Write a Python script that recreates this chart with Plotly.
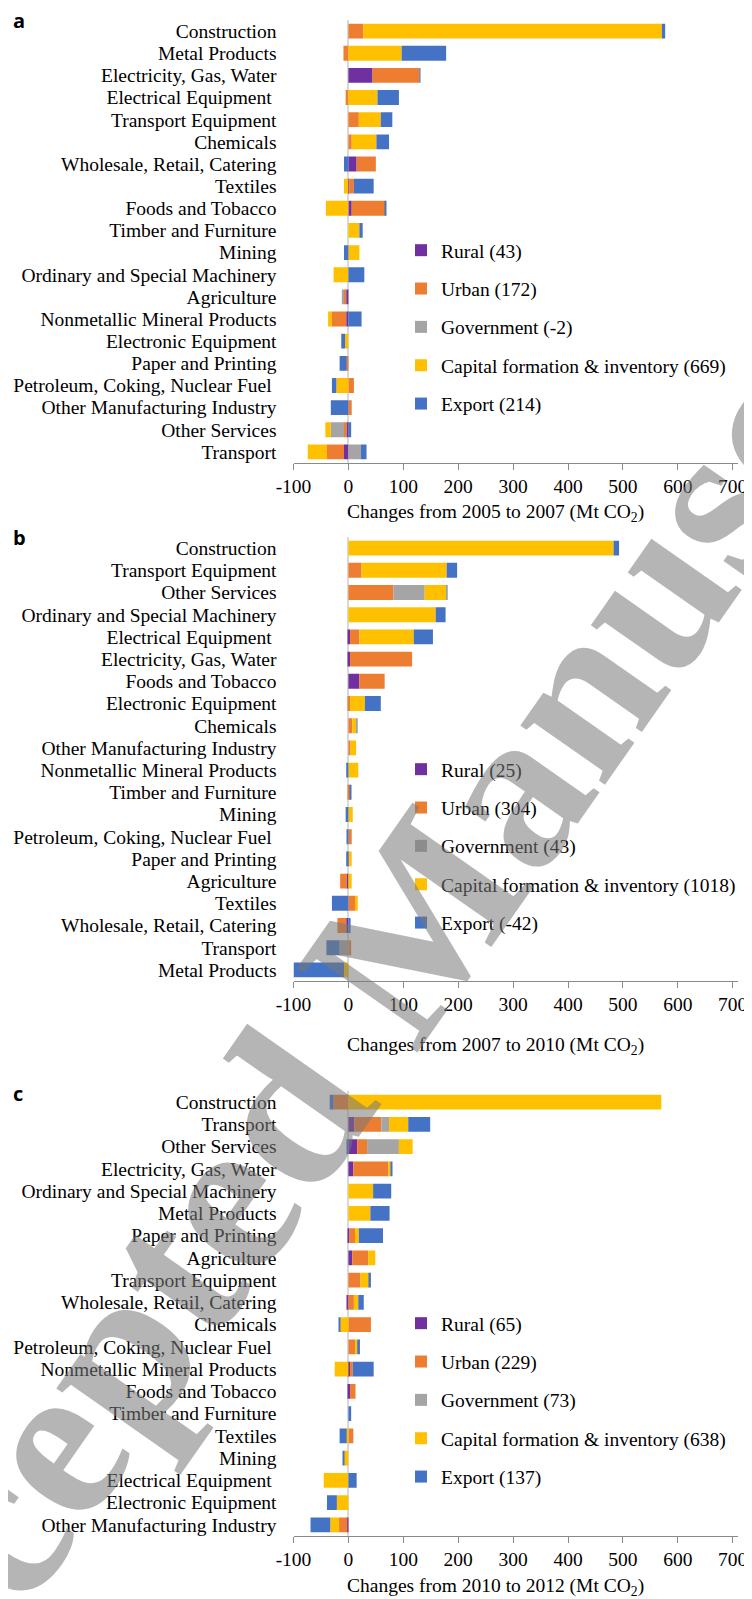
import plotly.graph_objects as go

# ---------------- data ----------------
series_names = ["Rural", "Urban", "Government", "Capital formation & inventory", "Export"]
colors = ["#7030A0", "#ED7D31", "#A5A5A5", "#FFC000", "#4472C4"]

cats_a = ["Construction", "Metal Products", "Electricity, Gas, Water", "Electrical Equipment\u00a0",
          "Transport Equipment", "Chemicals", "Wholesale, Retail, Catering", "Textiles",
          "Foods and Tobacco", "Timber and Furniture", "Mining", "Ordinary and Special Machinery",
          "Agriculture", "Nonmetallic Mineral Products", "Electronic Equipment", "Paper and Printing",
          "Petroleum, Coking, Nuclear Fuel\u00a0", "Other Manufacturing Industry", "Other Services", "Transport"]
rural_a = [0, 0, 44, 0, 0, 0, 15, 2, 6, 0, 0, 0, -4, -4, 0, 0, 0, 0, -3, -8]
urban_a = [27, -9, 86, -5, 19, 6, 35, 8, 61, 0, 0, 0, -4, -26, 0, -3, 10, 6, -5, -31]
gov_a = [0, 0, 0, 0, 0, 0, 0, 0, 0, 0, 0, 0, -4, 0, 0, 0, 0, 0, -24, 23]
cap_a = [544, 97, 0, 53, 40, 45, 0, -8, -41, 20, 20, -27, 0, -7, -6, 0, -22, 0, -10, -35]
exp_a = [6, 81, 1, 39, 21, 23, -8, 36, 1, 6, -8, 29, 0, 24, -7, -13, -8, -32, 5, 10]
totals_a = [43, 172, -2, 669, 214]

cats_b = ["Construction", "Transport Equipment", "Other Services", "Ordinary and Special Machinery",
          "Electrical Equipment\u00a0", "Electricity, Gas, Water", "Foods and Tobacco", "Electronic Equipment",
          "Chemicals", "Other Manufacturing Industry", "Nonmetallic Mineral Products", "Timber and Furniture",
          "Mining", "Petroleum, Coking, Nuclear Fuel\u00a0", "Paper and Printing", "Agriculture", "Textiles",
          "Wholesale, Retail, Catering", "Transport", "Metal Products"]
rural_b = [0, 0, 0, 0, 3, 3, 20, 0, 0, 0, 0, 0, 0, 0, 0, -3, 0, -4, 0, 0]
urban_b = [0, 24, 82, 0, 17, 113, 46, 3, 7, 4, 0, 3, 0, 6, 2, -12, 12, -16, 5, 0]
gov_b = [0, 0, 57, 0, 0, 0, 0, 0, 0, 0, 0, 0, 0, 0, 0, 0, 0, 0, -16, 0]
cap_b = [483, 155, 40, 159, 99, 0, 0, 27, 8, 10, 18, 0, 8, 0, 4, 6, 5, 0, 0, -8]
exp_b = [10, 19, 1, 18, 35, 0, 0, 29, 1, 0, -4, 2, -5, -3, -4, 0, -30, 4, -24, -92]
totals_b = [25, 304, 43, 1018, -42]

cats_c = ["Construction", "Transport", "Other Services", "Electricity, Gas, Water",
          "Ordinary and Special Machinery", "Metal Products", "Paper and Printing", "Agriculture",
          "Transport Equipment", "Wholesale, Retail, Catering", "Chemicals",
          "Petroleum, Coking, Nuclear Fuel\u00a0", "Nonmetallic Mineral Products", "Foods and Tobacco",
          "Timber and Furniture", "Textiles", "Mining", "Electrical Equipment\u00a0", "Electronic Equipment",
          "Other Manufacturing Industry"]
rural_c = [0, 11, 16, 9, 0, 0, 2, 7, 0, -2, 0, 0, 3, 3, 0, 0, 0, 0, 0, -2]
urban_c = [-27, 49, 18, 64, 0, 0, 10, 29, 22, 10, 41, 12, 5, 10, 0, 9, 0, 0, 0, -15]
gov_c = [0, 14, 58, 0, 0, 0, 0, 0, 0, 0, 0, 0, 0, 0, 0, 0, 0, 0, 0, 0]
cap_c = [570, 35, 25, 5, 45, 40, 7, 13, 16, 8, -15, 4, -25, 0, 0, -3, -8, -45, -21, -16]
exp_c = [-7, 40, -3, 1, 33, 35, 44, 0, 3, 10, -3, 5, 38, 0, 5, -13, -2, 15, -18, -36]
totals_c = [65, 229, 73, 638, 137]

axis_titles = ["Changes from 2005 to 2007 (Mt CO<sub>2</sub>)",
               "Changes from 2007 to 2010 (Mt CO<sub>2</sub>)",
               "Changes from 2010 to 2012 (Mt CO<sub>2</sub>)"]
panel_letters = ["a", "b", "c"]
tick_vals = [-100, 0, 100, 200, 300, 400, 500, 600, 700]
tick_text = ["-100", "0", "100", "200", "300", "400", "500", "600", "700"]
watermark = "Accepted Manuscript"

# ---------------- layout geometry (page pixels) ----------------
PAGE_W, PAGE_H = 752, 1599
OFF = 8                      # default body margin of the html page
W, H = PAGE_W - OFF, PAGE_H - OFF
FONT = "Liberation Serif"
FS = 19.5
TXT = dict(family=FONT, size=FS, color="#000000")

def fx(page_x):
    return (page_x - OFF) / W

def fy(page_y):
    return 1 - (page_y - OFF) / H

x_dom = [fx(293.5), fx(738.2)]
y_doms = [(20, 463), (537, 981), (1091, 1536)]
legend_tops = [231, 750, 1304]
title_y = [513, 1046, 1587]
letter_y = [20, 538, 1093]

panels = [
    (cats_a, [rural_a, urban_a, gov_a, cap_a, exp_a], totals_a),
    (cats_b, [rural_b, urban_b, gov_b, cap_b, exp_b], totals_b),
    (cats_c, [rural_c, urban_c, gov_c, cap_c, exp_c], totals_c),
]

fig = go.Figure()
legend_ids = ["legend", "legend2", "legend3"]
layout_upd = {}

for p, (cats, vals, tots) in enumerate(panels):
    xa = "x" if p == 0 else f"x{p+1}"
    ya = "y" if p == 0 else f"y{p+1}"
    for s in range(5):
        fig.add_trace(go.Bar(
            y=cats, x=vals[s], orientation="h",
            name=f"{series_names[s]} ({tots[s]})",
            marker=dict(color=colors[s], line=dict(width=0)),
            xaxis=xa, yaxis=ya,
            legend=legend_ids[p], legendgroup=f"p{p}s{s}",
        ))
    xkey = "xaxis" if p == 0 else f"xaxis{p+1}"
    ykey = "yaxis" if p == 0 else f"yaxis{p+1}"
    top, bot = y_doms[p]
    layout_upd[xkey] = dict(
        domain=x_dom, anchor=ya, range=[-100, 710], automargin=False,
        tickmode="array", tickvals=tick_vals, ticktext=tick_text,
        showgrid=False, zeroline=True, zerolinecolor="#D9D9D9", zerolinewidth=1.5,
        showline=True, linecolor="#8A8A8A", linewidth=1.3,
        ticks="outside", ticklen=6, tickcolor="#8A8A8A", tickwidth=1.3,
        ticklabelstandoff=-1,
        tickfont=TXT,
    )
    layout_upd[ykey] = dict(
        domain=[fy(bot), fy(top)], anchor=xa, autorange="reversed", automargin=False,
        type="category", tickmode="array", tickvals=cats, ticktext=cats,
        showgrid=False, zeroline=False, showline=False,
        ticks="", ticklabelstandoff=16,
        tickfont=TXT,
    )
    layout_upd[legend_ids[p]] = dict(
        x=fx(401), xanchor="left", y=fy(legend_tops[p]), yanchor="top",
        traceorder="grouped", tracegroupgap=10,
        font=TXT, bgcolor="rgba(0,0,0,0)", borderwidth=0,
    )
    fig.add_annotation(text=axis_titles[p], xref="paper", yref="paper",
                       x=fx(495), y=fy(title_y[p]), xanchor="center", yanchor="middle",
                       showarrow=False, font=TXT)
    fig.add_annotation(text=f"<b>{panel_letters[p]}</b>", xref="paper", yref="paper",
                       x=fx(11), y=fy(letter_y[p]), xanchor="left", yanchor="middle",
                       showarrow=False, font=dict(family="Open Sans", size=20, color="#000000"))

# watermark
fig.add_annotation(text=f"<b>{watermark}</b>", xref="paper", yref="paper",
                   x=fx(405), y=fy(938), xanchor="center", yanchor="middle",
                   textangle=-55, showarrow=False,
                   font=dict(family=FONT, size=225, color="rgba(120,120,120,0.55)"))

fig.update_layout(
    width=W, height=H, barmode="relative", bargap=0.33,
    margin=dict(l=0, r=0, t=0, b=0, autoexpand=False),
    paper_bgcolor="white", plot_bgcolor="white",
    font=TXT, showlegend=True,
    **layout_upd,
)

fig.write_html("out.html")
